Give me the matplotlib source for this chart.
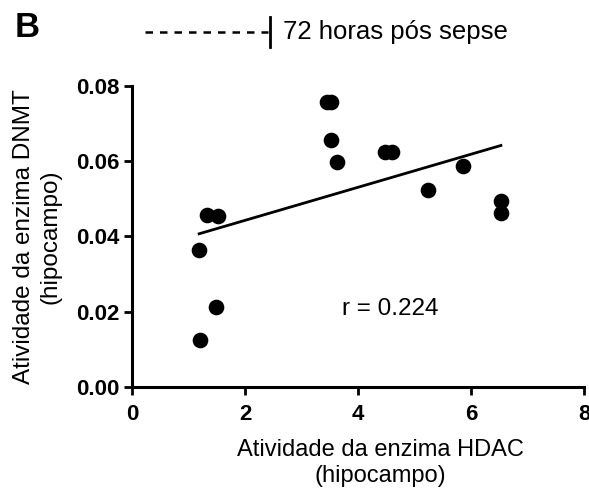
import numpy as np
import matplotlib.pyplot as plt
from matplotlib.lines import Line2D

plt.rcParams['font.family'] = ['Liberation Sans', 'DejaVu Sans']

# HDAC vs DNMT activity, hippocampus, 72 h after sepsis
hdac = [3.45, 3.53, 3.52, 3.63, 4.48, 4.60, 5.24, 5.86, 6.53, 6.53, 1.33, 1.52, 1.19, 1.49, 1.21]
dnmt = [0.0758, 0.0758, 0.0657, 0.0598, 0.0625, 0.0625, 0.0524, 0.0587, 0.0494, 0.0462,
        0.0457, 0.0455, 0.0364, 0.0213, 0.0125]
r_label = "r = 0.224"
x_ticks = [0, 2, 4, 6, 8]
y_ticks = [0.00, 0.02, 0.04, 0.06, 0.08]

fig = plt.figure(figsize=(5.89, 4.93), dpi=100)
ax = fig.add_axes([0.224, 0.215, 0.7675, 0.6106])

ax.scatter(hdac, dnmt, s=105, color='black', zorder=3, clip_on=False)

# linear fit over the range of the data
slope, intercept = np.polyfit(hdac, dnmt, 1)
xs = np.array([min(hdac), max(hdac)])
ax.plot(xs, slope * xs + intercept, color='black', lw=2)

ax.text(4.57, 0.0207, r_label, fontsize=17.5, ha='center', va='center')

ax.set_xlim(0, 8)
ax.set_ylim(0, 0.08)
ax.set_xticks(x_ticks)
ax.set_yticks(y_ticks)
ax.set_xticklabels([str(t) for t in x_ticks], fontweight='bold', fontsize=16)
ax.set_yticklabels([f"{t:.2f}" for t in y_ticks], fontweight='bold', fontsize=16)
ax.tick_params(direction='out', length=6, width=2, pad=3)
ax.tick_params(axis='x', pad=6)

for side in ['top', 'right']:
    ax.spines[side].set_visible(False)
for side in ['left', 'bottom']:
    ax.spines[side].set_linewidth(2.2)

ax.set_xlabel("Atividade da enzima HDAC\n(hipocampo)", fontsize=17, linespacing=1.25)
ax.xaxis.set_label_coords(0.55, -0.172)
ax.set_ylabel("Atividade da enzima DNMT\n(hipocampo)", fontsize=17.5, labelpad=10.5, linespacing=1.25)

# panel letter and group key
fig.text(0.025, 0.945, "B", fontsize=25, fontweight='bold', va='center')
fig.add_artist(Line2D([0.246, 0.455], [0.935, 0.935], color='black', lw=1.8, ls=(0, (3, 2.8))))
fig.add_artist(Line2D([0.459, 0.459], [0.905, 0.965], color='black', lw=2))
fig.text(0.48, 0.935, "72 horas pós sepse", fontsize=18.5, va='center')

fig.savefig("out.png", dpi=100)
